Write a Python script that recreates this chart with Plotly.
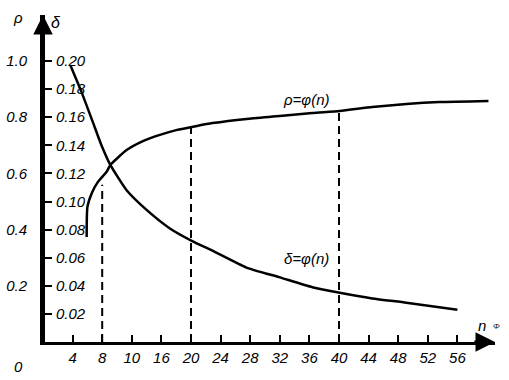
import plotly.graph_objects as go

# ---- data ----
n_rho = [5.9, 6.0, 6.6, 7.4, 8.6, 9.1, 11.3, 13.5, 15.8, 18.0, 20.8, 22.9, 27.5, 32.0, 36.4, 40.1, 44.5, 49.1, 53.6, 60.2]
rho = [0.374, 0.48, 0.53, 0.569, 0.606, 0.630, 0.683, 0.715, 0.737, 0.754, 0.769, 0.779, 0.794, 0.804, 0.815, 0.822, 0.836, 0.847, 0.854, 0.858]

n_delta = [3.7, 5.2, 6.7, 7.9, 9.1, 11.3, 14.0, 17.1, 20.1, 22.9, 27.5, 32.0, 36.4, 40.1, 44.5, 49.1, 56.0]
delta = [0.197, 0.178, 0.157, 0.140, 0.126, 0.108, 0.094, 0.081, 0.072, 0.065, 0.053, 0.046, 0.039, 0.035, 0.031, 0.028, 0.023]

dash_n = [8, 20, 40]
dash_top = [0.56, 0.765, 0.82]

x_tickvals = [4, 8, 12, 16, 20, 24, 28, 32, 36, 40, 44, 48, 52, 56]
x_ticktext = ["4", "8", "10", "16", "20", "24", "28", "32", "36", "40", "44", "48", "52", "56"]

rho_tickvals = [0.2, 0.4, 0.6, 0.8, 1.0]
rho_ticktext = ["0.2", "0.4", "0.6", "0.8", "1.0"]

delta_tickvals = [0.02, 0.04, 0.06, 0.08, 0.10, 0.12, 0.14, 0.16, 0.18, 0.20]
delta_ticktext = ["0.02", "0.04", "0.06", "0.08", "0.10", "0.12", "0.14", "0.16", "0.18", "0.20"]

# ---- figure ----
W, H = 509, 380
ML, MR, MT, MB = 43, 14, 15, 38
PW, PH = W - ML - MR, H - MT - MB
X_MAX = PW / 7.4
RHO_MAX = PH / 281
DELTA_MAX = RHO_MAX / 5

FONT = "Liberation Sans, Arial, sans-serif"

fig = go.Figure()

for xn, top in zip(dash_n, dash_top):
    fig.add_trace(go.Scatter(x=[xn, xn], y=[0, top], mode="lines",
                             line=dict(color="black", width=2, dash="8px,5px"),
                             hoverinfo="skip", showlegend=False))

fig.add_trace(go.Scatter(x=n_rho, y=rho, mode="lines",
                         line=dict(color="black", width=2.5, shape="spline", smoothing=0.5),
                         showlegend=False))

fig.add_trace(go.Scatter(x=n_delta, y=delta, mode="lines", yaxis="y2",
                         line=dict(color="black", width=2.5, shape="spline", smoothing=0.5),
                         showlegend=False))

fig.update_layout(
    width=W, height=H,
    margin=dict(l=ML, r=MR, t=MT, b=MB, autoexpand=False),
    paper_bgcolor="white", plot_bgcolor="white",
    font=dict(family=FONT, color="black", size=14, style="italic"),
    xaxis=dict(range=[0, X_MAX], showgrid=False, zeroline=False, automargin=False,
               showline=True, linecolor="black", linewidth=3,
               ticks="inside", ticklen=7, tickwidth=2, tickcolor="black",
               tickvals=x_tickvals, ticktext=x_ticktext,
               tickfont=dict(family=FONT, size=15, style="italic")),
    yaxis=dict(range=[0, RHO_MAX], showgrid=False, zeroline=False, automargin=False,
               showline=True, linecolor="black", linewidth=3,
               ticks="", tickvals=rho_tickvals, ticktext=rho_ticktext,
               ticklabelstandoff=10,
               tickfont=dict(family=FONT, size=15, style="italic")),
    yaxis2=dict(range=[0, DELTA_MAX], overlaying="y", side="right", anchor="free", position=0,
                showgrid=False, zeroline=False, showline=True, linecolor="black", linewidth=3,
                automargin=False,
                ticks="outside", ticklen=7, tickwidth=2, tickcolor="black",
                ticklabelstandoff=1,
                tickvals=delta_tickvals, ticktext=delta_ticktext,
                tickfont=dict(family=FONT, size=15, style="italic")),
)

# axis arrows
fig.add_annotation(x=0, y=RHO_MAX, ax=0, ay=1.05, xref="x", yref="y", axref="x", ayref="y",
                   showarrow=True, arrowhead=2, arrowsize=1.3, arrowwidth=3, arrowcolor="black", text="")
fig.add_annotation(x=X_MAX, y=0, ax=X_MAX - 3, ay=0, xref="x", yref="y", axref="x", ayref="y",
                   showarrow=True, arrowhead=2, arrowsize=1.3, arrowwidth=3, arrowcolor="black", text="")

# texts (positions given in pixels of the whole image)
ann = [
    dict(px=18, py=18, text="ρ", size=15),
    dict(px=56, py=22, text="δ", size=16),
    dict(px=18, py=366, text="0", size=15),
    dict(px=306, py=99, text="ρ=φ(n)", size=15),
    dict(px=306, py=258, text="δ=φ(n)", size=15),
    dict(px=482, py=325, text="n", size=15),
    dict(px=496, py=326, text="Φ", size=8),
]
for a in ann:
    fig.add_annotation(x=(a["px"] - ML) / PW, y=(H - MB - a["py"]) / PH,
                       xref="paper", yref="paper",
                       xanchor="center", yanchor="middle", text=a["text"], showarrow=False,
                       font=dict(family=FONT, size=a["size"], style="italic", color="black"))

fig.write_html("out.html", config={"displayModeBar": False},
               post_script="document.body.style.margin='0';document.body.style.padding='0';")
